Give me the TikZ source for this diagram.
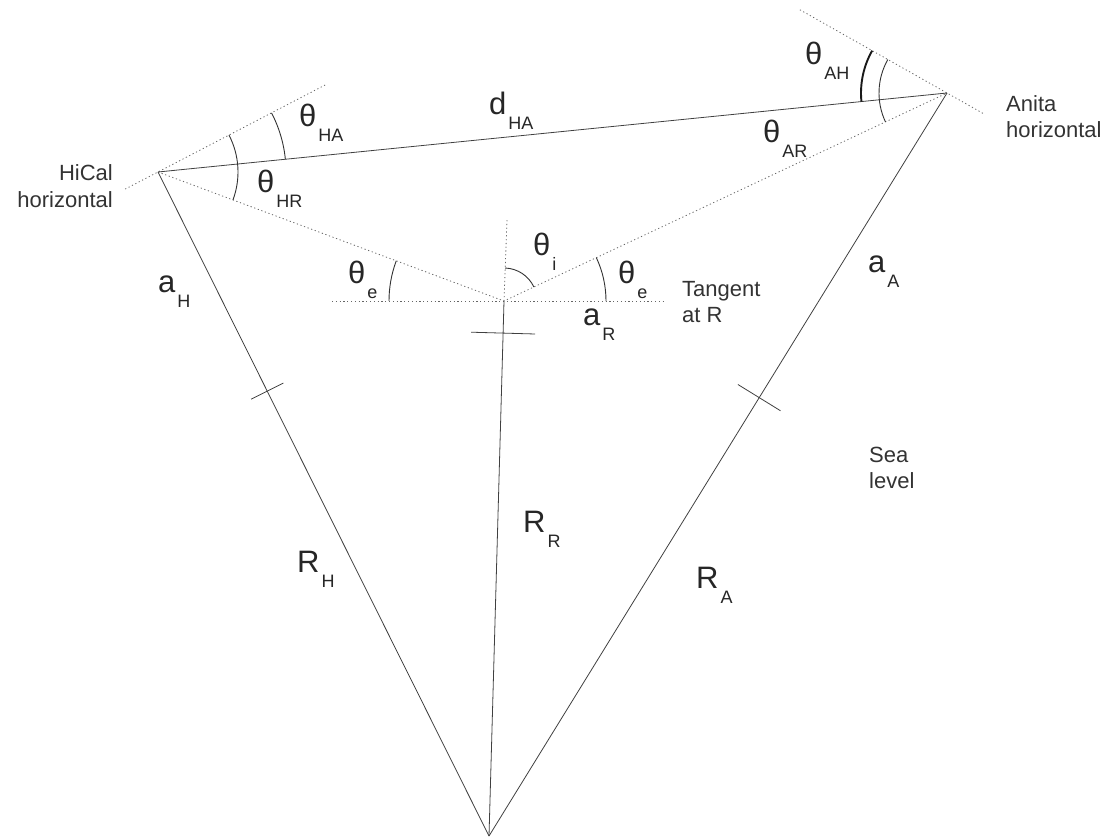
\documentclass[tikz,border=0pt]{standalone}
\usepackage{fontspec}
\setmainfont{Liberation Sans}
\usetikzlibrary{calc}
\tikzset{
  leg/.style={draw=black!75,line width=0.8pt},
  guide/.style={draw=black!60,line width=0.8pt,dash pattern=on 1.2pt off 2.6pt},
  anglearc/.style={draw=black!80,line width=0.9pt},
  widearc/.style={draw=black!90,line width=1.9pt},
  tick/.style={draw=black!75,line width=0.8pt},
  sym/.style={inner sep=0pt,anchor=base west,text=black!85,font=\fontsize{31}{31}\selectfont},
  note/.style={inner sep=0pt,text=black!80,font=\fontsize{22}{26}\selectfont}
}
\newcommand{\withsub}[2]{#1\kern2pt\raisebox{-15pt}{\fontsize{18}{18}\selectfont #2}}

\begin{document}
\begin{tikzpicture}[x=1pt,y=-1pt]
  \useasboundingbox (0,0) rectangle (1115,837);
  % stations, reflection point, earth centre
  \coordinate (H) at (158,172);
  \coordinate (A) at (947,93);
  \coordinate (R) at (504,301);
  \coordinate (O) at (489,836);
  % local horizontals
  \coordinate (Hl) at ($(H)+(207.5:37pt)$);
  \coordinate (Hr) at ($(H)+(27.5:190pt)$);
  \coordinate (Al) at ($(A)+(150.5:169pt)$);
  \coordinate (Ar) at ($(A)+(-29.5:43pt)$);
  \coordinate (Tl) at (332,301);
  \coordinate (Tr) at (665,301);
  \coordinate (Rv) at (507,220);

  \draw[guide] (Hl) -- (Hr);
  \draw[guide] (Al) -- (Ar);
  \draw[guide] (Tl) -- (Tr);
  \draw[guide] (R) -- (Rv);
  \draw[guide] (H) -- (R) -- (A);

  \draw[leg] (H) -- (A);
  \draw[leg] (H) -- (O);
  \draw[leg] (A) -- (O);
  \draw[leg] (R) -- (O);

  % sea level marks
  \coordinate (Ht) at ($(H)!0.33!(O)$);
  \coordinate (At) at ($(A)!0.41!(O)$);
  \coordinate (Rt) at ($(R)!0.06!(O)$);
  \draw[tick] ($(Ht)!18pt!90:(O)$) -- ($(Ht)!18pt!-90:(O)$);
  \draw[tick] ($(At)!25pt!90:(O)$) -- ($(At)!25pt!-90:(O)$);
  \draw[tick] ($(Rt)!32pt!90:(O)$) -- ($(Rt)!32pt!-90:(O)$);

  % angles
  \draw[anglearc] ($(H)+(5.72:128pt)$) arc[start angle=5.72,end angle=27.5,radius=128pt];
  \draw[anglearc] ($(H)+(-20.45:80pt)$) arc[start angle=-20.45,end angle=27.5,radius=80pt];
  \draw[widearc] ($(A)+(150.5:86pt)$) arc[start angle=150.5,end angle=185.72,radius=86pt];
  \draw[anglearc] ($(A)+(150.5:68pt)$) arc[start angle=150.5,end angle=205.15,radius=68pt];
  \draw[anglearc] ($(R)+(159.55:115pt)$) arc[start angle=159.55,end angle=180,radius=115pt];
  \draw[anglearc] ($(R)+(0:102pt)$) arc[start angle=0,end angle=25.15,radius=102pt];
  \draw[anglearc] ($(R)+(25.15:33pt)$) arc[start angle=25.15,end angle=87.9,radius=33pt];

  % labels
  \node[sym] (thHA) at (299,127) {\withsub{θ}{HA}};
  \node[sym] (thHR) at (257,192) {\withsub{θ}{HR}};
  \node[sym] (dHA) at (489,115) {\withsub{d}{HA}};
  \node[sym] (thAR) at (763,143) {\withsub{θ}{AR}};
  \node[sym] (thAH) at (805,65) {\withsub{θ}{AH}};
  \node[sym] (aH) at (158,292) {\withsub{a}{H}};
  \node[sym] (theL) at (348,283) {\withsub{θ}{e}};
  \node[sym] (thi) at (533,255) {\withsub{θ}{i}};
  \node[sym] (theR) at (618,283) {\withsub{θ}{e}};
  \node[sym] (aR) at (583,325) {\withsub{a}{R}};
  \node[sym] (aA) at (868,272) {\withsub{a}{A}};
  \node[sym] (RR) at (523,532) {\withsub{R}{R}};
  \node[sym] (RH) at (297,572) {\withsub{R}{H}};
  \node[sym] (RA) at (696,588) {\withsub{R}{A}};

  % two-line notes, placed by the baseline of their last line
  \node[note,align=left,anchor=base west] (tang) at (682,322) {Tangent\\at R};
  \node[note,align=left,anchor=base west] (sea) at (869,488) {Sea\\level};
  \node[note,align=right,anchor=base east] (hical) at (113,207) {HiCal\\horizontal};
  \node[note,align=left,anchor=base west] (anita) at (1006,138) {Anita\\horizontal};
\end{tikzpicture}
\end{document}
